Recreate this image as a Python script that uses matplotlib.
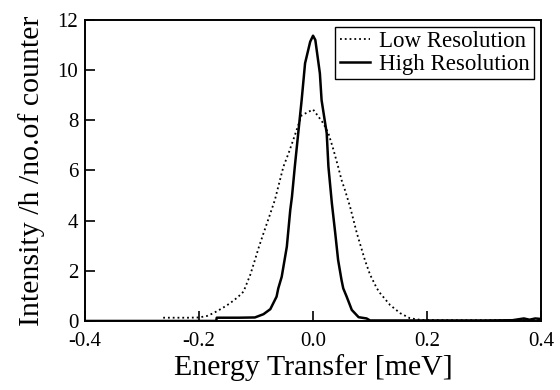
import numpy as np
import matplotlib
matplotlib.use("Agg")
import matplotlib.pyplot as plt

# Low resolution curve (dotted)
lowE = [-0.263, -0.24, -0.22, -0.20, -0.186, -0.175, -0.16, -0.146, -0.132, -0.122,
        -0.110, -0.102, -0.095, -0.087, -0.077, -0.067, -0.058, -0.052, -0.043, -0.035,
        -0.026, -0.020, -0.011, 0.000, 0.006, 0.018, 0.027, 0.036, 0.044, 0.050,
        0.056, 0.065, 0.077, 0.091, 0.100, 0.112, 0.118, 0.135, 0.153, 0.170,
        0.19, 0.25, 0.30, 0.35, 0.40]
lowI = [0.13, 0.13, 0.13, 0.14, 0.20, 0.31, 0.50, 0.70, 0.95, 1.17,
        1.85, 2.43, 2.95, 3.49, 4.15, 4.82, 5.62, 6.15, 6.68, 7.20,
        7.80, 8.20, 8.30, 8.43, 8.25, 7.88, 7.48, 6.81, 6.15, 5.62,
        5.22, 4.55, 3.49, 2.43, 1.85, 1.30, 1.10, 0.64, 0.31, 0.11,
        0.04, 0.03, 0.03, 0.04, 0.03]

# High resolution curve (solid)
highE = [-0.40, -0.30, -0.20, -0.17, -0.169, -0.13, -0.102, -0.087, -0.075, -0.064,
         -0.061, -0.055, -0.046, -0.040, -0.037, -0.032, -0.026, -0.020, -0.014, -0.005,
         0.000, 0.004, 0.012, 0.015, 0.024, 0.027, 0.033, 0.039, 0.044, 0.050,
         0.053, 0.059, 0.068, 0.080, 0.094, 0.100, 0.20, 0.30, 0.35, 0.37,
         0.38, 0.39, 0.40]
highI = [0.0, 0.0, 0.0, 0.0, 0.13, 0.13, 0.14, 0.27, 0.47, 0.97,
         1.30, 1.76, 2.96, 4.42, 4.95, 6.15, 7.48, 8.80, 10.27, 11.13,
         11.37, 11.20, 9.87, 8.80, 7.48, 6.15, 4.70, 3.49, 2.43, 1.63,
         1.30, 0.97, 0.44, 0.15, 0.10, 0.02, 0.02, 0.02, 0.03, 0.10,
         0.05, 0.10, 0.08]

xticks = [-0.4, -0.2, 0.0, 0.2, 0.4]
yticks = [0, 2, 4, 6, 8, 10, 12]

plt.rcParams['font.family'] = ['Liberation Serif', 'DejaVu Serif']

fig = plt.figure(figsize=(5.6, 3.9), dpi=100)
ax = fig.add_axes([0.152, 0.177, 0.814, 0.772])

ax.plot(lowE, lowI, color="black", linestyle=":", linewidth=1.3, label="Low Resolution")
ax.plot(highE, highI, color="black", linestyle="-", linewidth=1.8, label="High Resolution")

ax.set_xlim(-0.4, 0.4)
ax.set_ylim(0, 12)
ax.set_xticks(xticks)
ax.set_xticklabels(["%.1f" % v for v in xticks])
ax.set_yticks(yticks)
ax.tick_params(direction="in", length=7, width=1.2, labelsize=15,
               top=False, right=False)
ax.tick_params(axis="x", pad=8)
ax.tick_params(axis="y", pad=5)
for s in ax.spines.values():
    s.set_linewidth(1.4)

ax.set_xlabel("Energy Transfer [meV]", fontsize=21.5, labelpad=2)
ax.set_ylabel("Intensity /h /no.of counter", fontsize=21.5, labelpad=9)

leg = ax.legend(loc="upper right", fontsize=16.5, frameon=True, fancybox=False,
                edgecolor="black", borderpad=0.2, labelspacing=0.05,
                handlelength=1.3, handletextpad=0.4, borderaxespad=0.3)
leg.get_frame().set_linewidth(1.0)
leg.get_frame().set_alpha(1)

fig.savefig("out.png", dpi=100)
